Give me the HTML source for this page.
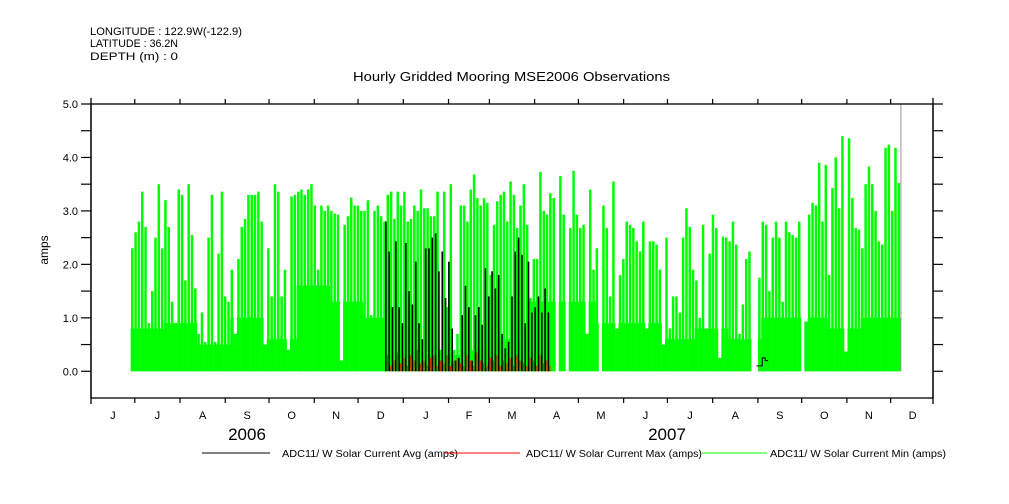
<!DOCTYPE html>
<html><head><meta charset="utf-8"><style>
html,body{margin:0;padding:0;background:#fff;}
svg{display:block;font-family:"Liberation Sans",sans-serif;}
</style></head><body>
<svg id="chart" width="1009" height="504" viewBox="0 0 1009 504" xmlns="http://www.w3.org/2000/svg">
<g font-size="11" fill="#000">
<text x="90" y="35" textLength="152" lengthAdjust="spacingAndGlyphs">LONGITUDE : 122.9W(-122.9)</text>
<text x="90" y="47" textLength="88" lengthAdjust="spacingAndGlyphs">LATITUDE : 36.2N</text>
<text x="90" y="60" textLength="88" lengthAdjust="spacingAndGlyphs">DEPTH (m) : 0</text>
</g>
<text x="353" y="81" font-size="13" textLength="317" lengthAdjust="spacingAndGlyphs">Hourly Gridded Mooring MSE2006 Observations</text>
<g id="marks"></g>
<g id="axes"></g>
<text transform="translate(48,250) rotate(-90)" text-anchor="middle" font-size="12">amps</text>
<text x="247" y="440" text-anchor="middle" font-size="17">2006</text>
<text x="667" y="440" text-anchor="middle" font-size="17">2007</text>
<g font-size="10">
<g><line x1="202" y1="453" x2="270" y2="453" stroke="#000"/><text x="282" y="457" textLength="176" lengthAdjust="spacingAndGlyphs">ADC11/ W Solar Current Avg (amps)</text></g>
<g><line x1="445" y1="453" x2="520" y2="453" stroke="#f00"/><text x="526" y="457" textLength="176" lengthAdjust="spacingAndGlyphs">ADC11/ W Solar Current Max (amps)</text></g>
<g><line x1="702" y1="453" x2="767" y2="453" stroke="#0f0"/><text x="770" y="457" textLength="176" lengthAdjust="spacingAndGlyphs">ADC11/ W Solar Current Min (amps)</text></g>
</g>
</svg>
<script>
// data
const greenStartDay = 27.2;
const stepDays = 2.274;
const greenVals = [2.3,2.6,2.8,3.36,2.7,0.9,1.5,2.5,3.5,2.3,3.2,2.7,1.3,0.9,3.4,3.3,1.7,3.5,2.55,1.55,0.7,1.1,0.55,2.5,3.3,0.55,2.2,3.36,1.4,1.3,1.9,0.7,2.1,2.7,2.85,3.3,3.3,3.3,3.36,2.8,0.5,2.3,1.4,3.5,3.36,1.4,1.9,0.4,3.27,3.3,3.36,3.4,3.3,3.4,3.5,3.1,1.9,3.1,3.0,3.1,3.0,2.95,2.93,0.2,2.74,2.9,3.25,3.1,3.1,3.0,3.0,3.2,1.05,3.0,3.1,2.9,2.8,3.3,3.36,2.85,3.36,3.1,
3.36,2.8,2.85,3.1,3.0,3.4,3.05,3.05,2.9,2.9,3.36,0.4,3.36,1.2,3.5,0.4,0.7,3.1,3.1,2.8,3.4,3.68,3.24,3.1,3.24,3.15,1.8,2.74,3.18,3.3,3.36,2.8,3.55,3.3,2.68,3.1,3.5,2.74,1.37,2.1,2.1,3.73,3.0,2.93,3.33,3.24,0,3.65,2.93,0,2.68,3.75,2.93,2.68,2.74,0.7,3.4,1.9,2.3,0,3.1,2.68,1.4,3.55,0.8,1.8,2.1,2.8,2.74,2.68,2.43,2.24,2.8,0.8,2.43,2.43,2.37,1.9,0.5,2.5,0.8,1.4,
1.4,1.1,2.5,3.05,2.7,1.9,1.7,1.0,2.74,0.8,2.2,2.93,2.68,0.25,2.52,2.5,2.43,2.8,2.37,0.7,1.25,2.1,2.24,0,0,1.75,2.8,2.74,1.5,2.5,2.8,2.5,1.3,2.8,2.6,2.55,2.5,2.8,0,0.93,2.93,3.15,3.1,3.9,2.8,3.86,1.8,3.43,4.0,3.05,4.4,0.37,4.36,3.24,2.68,2.65,2.3,3.5,3.83,3.5,3.0,2.43,2.37,4.18,4.24,3.0,4.18,3.52];
// solid lower level, one value per 10 greenVals
const baseVals = [0.8,0.9,0.5,1.0,0.6,1.6,1.3,1.0,0.4,0.3,0.4,0.6,1.3,1.3,0.9,0.9,0.6,0.8,0.6,1.0,1.0,0.8,1.0,1.0];
const avgStartDay = 201.5;
const avgVals = [2.8,2.24,1.2,2.43,1.2,0.9,2.4,1.5,1.25,2.05,0.9,0.6,2.3,2.3,2.5,2.58,1.87,2.24,1.37,2.05,0.8,0.2,0.25,1.05,1.6,1.2,0.2,1.05,1.2,0.87,1.93,1.4,1.87,1.55,1.8,0.7,0.43,0.55,1.4,2.24,2.5,2.18,0.9,2.05,1.1,1.2,1.4,1.1,1.55,1.1];
const maxRedVals = [0.3,0.1,0.2,0.35,0.15,0.25,0.1,0.3,0.2,0.4,0.15,0.2,0.1,0.25,0.3,0.1,0.2,0.15,0.3,0.1,0.2,0.25,0.15,0.1,0.3,0.2,0.1,0.35,0.2,0.15,0.1,0.25,0.2,0.3,0.1,0.2,0.15,0.25,0.1,0.3,0.2,0.15,0.1,0.25,0.2,0.1,0.3,0.15,0.2,0.1];
const gapDays = [456,458,460,462];
const gapAvg = [0.1,0.1,0.25,0.2];
const spikeDays = [555];
const spikeVals = [5.0];
const monthLens = [30,31,31,30,31,30,31,31,28,31,30,31,30,31,31,30,31,30,30];
const monthLabels = ["J","J","A","S","O","N","D","J","F","M","A","M","J","J","A","S","O","N","D"];
const yTicks = [0,0.5,1,1.5,2,2.5,3,3.5,4,4.5,5];
const yLabels = ["0.0","","1.0","","2.0","","3.0","","4.0","","5.0"];

const X0=91, X1=933, Y0=398, Y1=104;
const xDomainDays = 577;
const yMin=-0.5, yMax=5.0;
const xs = d => X0 + d*(X1-X0)/xDomainDays;
const ys = v => Y0 - (v-yMin)*(Y0-Y1)/(yMax-yMin);
const NS="http://www.w3.org/2000/svg";
const marks=document.getElementById('marks');
const axes=document.getElementById('axes');
function mk(tag,attrs,parent){const e=document.createElementNS(NS,tag);for(const k in attrs)e.setAttribute(k,attrs[k]);parent.appendChild(e);return e;}

const bw = xs(stepDays)-xs(0);
greenVals.forEach((v,i)=>{
  const x=xs(greenStartDay+i*stepDays);
  const b=Math.min(v, baseVals[Math.floor(i/10)]);
  if(v>0){
    const rb=mk('rect',{x:x,y:ys(b),width:bw+0.2,height:Math.max(0,ys(0)-ys(b)),fill:'#00ff00'},marks);
    
    
  }
  const r=mk('rect',{x:x+bw*0.1,y:ys(v),width:bw*0.75,height:Math.max(0,ys(0)-ys(v)),fill:'#00ff00'},marks);
  
  
});
maxRedVals.forEach((v,i)=>{
  const x=xs(avgStartDay+i*stepDays)+bw*0.6;
  const r=mk('rect',{x:x,y:ys(v),width:0.8,height:ys(0)-ys(v),fill:'#ff0000'},marks);
  
  
});
avgVals.forEach((v,i)=>{
  const x=xs(avgStartDay+i*stepDays);
  const r=mk('rect',{x:x,y:ys(v),width:1.6,height:ys(0)-ys(v),fill:'#000'},marks);
  
  
});
let gp='';
gapDays.forEach((d,i)=>{gp+=(i?'L':'M')+xs(d)+','+ys(gapAvg[i])+'L'+xs(d+2)+','+ys(gapAvg[i]);});
const gl=mk('path',{d:gp,fill:'none',stroke:'#000','stroke-width':1},marks);


spikeDays.forEach((d,i)=>{
  const l=mk('line',{x1:xs(d),x2:xs(d),y1:ys(spikeVals[i]),y2:ys(0),stroke:'#999','stroke-width':1},marks);
  
  
});

const fr=mk('rect',{x:X0,y:Y1,width:X1-X0,height:Y0-Y1,fill:'none',stroke:'#000','stroke-width':1.3},axes);


yTicks.forEach((t,i)=>{
  const y=ys(t);
  mk('line',{x1:81,x2:X0,y1:y,y2:y,stroke:'#000','stroke-width':1.2},axes);
  mk('line',{x1:X1,x2:943,y1:y,y2:y,stroke:'#000','stroke-width':1.2},axes);
  if(yLabels[i]){
    const tx=mk('text',{x:78,y:y+4,'text-anchor':'end','font-size':11},axes);
    tx.textContent=yLabels[i];
    
    
  }
});
let day=0;
monthLens.forEach((len,i)=>{
  if(i>0){
    const x=xs(day);
    mk('line',{x1:x,x2:x,y1:Y1-5,y2:Y1,stroke:'#000','stroke-width':1.2},axes);
    mk('line',{x1:x,x2:x,y1:Y0,y2:Y0+5,stroke:'#000','stroke-width':1.2},axes);
  }
  const tx=mk('text',{x:xs(day+len/2),y:419,'text-anchor':'middle','font-size':11},axes);
  tx.textContent=monthLabels[i];
  
  
  day+=len;
});
mk('line',{x1:X0,x2:X0,y1:Y1-6,y2:Y0+6,stroke:'#000','stroke-width':1.3},axes);
mk('line',{x1:X1,x2:X1,y1:Y1-6,y2:Y0+6,stroke:'#000','stroke-width':1.3},axes);
</script>
</body></html>
